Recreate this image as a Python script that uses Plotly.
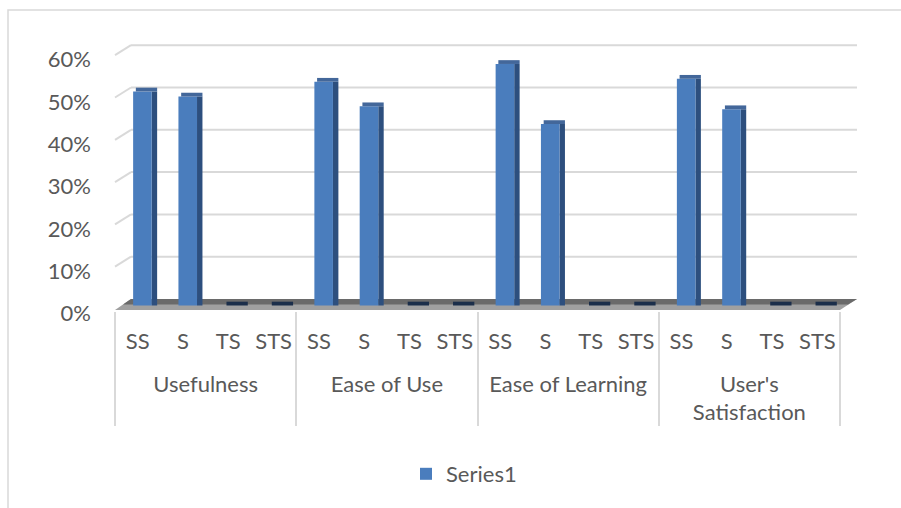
import plotly.graph_objects as go

# ---------------- data ----------------
groups = ["Usefulness", "Ease of Use", "Ease of Learning", "User's<br>Satisfaction"]
responses = ["SS", "S", "TS", "STS"]
usefulness = [0.506, 0.494, 0.0, 0.0]
ease_of_use = [0.529, 0.471, 0.0, 0.0]
ease_of_learning = [0.571, 0.429, 0.0, 0.0]
users_satisfaction = [0.536, 0.464, 0.0, 0.0]
y_ticks = [0.0, 0.1, 0.2, 0.3, 0.4, 0.5, 0.6]
y_tick_labels = ["0%", "10%", "20%", "30%", "40%", "50%", "60%"]
series_name = "Series1"

values = usefulness + ease_of_use + ease_of_learning + users_satisfaction
# leading blank line pushes the group labels a little further below the sub-labels
x_outer = ["<br>" + g for g in groups for _ in responses]
x_inner = [r for _ in groups for r in responses]

# ---------------- geometry (pixels) ----------------
W, H = 901, 508
FRONT_L, FRONT_R = 115, 840
DX, DY = 16, 13           # depth shift of the back wall
PPU = 423                 # pixels per 100 %
ZERO_FRONT = 312
ZERO_MID = ZERO_FRONT - DY / 2
AXIS_BOTTOM = 311
TOP = 36
FONT = "Lato"
TXT = "#595959"
GRID = "#D9D9D9"
BACK_SHIFT = (DY / 2) / PPU   # value offset of back wall vs bar plane


def px(p):
    return p / W


def py(p):
    return 1 - p / H


cap_colors = ["#43679A" if v > 0 else "#1B2E4A" for v in values]

fig = go.Figure()
# side faces
fig.add_trace(go.Bar(x=[x_outer, x_inner], y=values, offset=0.31, width=0.12,
                     marker=dict(color="#2D4F7E", line=dict(width=0)), showlegend=False,
                     hoverinfo="skip"))
# front faces
fig.add_trace(go.Bar(x=[x_outer, x_inner], y=values, offset=-0.10, width=0.41,
                     name=series_name,
                     marker=dict(color="#4A7DBD", line=dict(width=0))))
# top caps
fig.add_trace(go.Bar(x=[x_outer, x_inner], y=[0.009] * len(values), base=values,
                     offset=-0.04, width=0.47,
                     marker=dict(color=cap_colors, line=dict(width=0)), showlegend=False,
                     hoverinfo="skip"))

shapes = []
# chart border
shapes.append(dict(type="rect", xref="paper", yref="paper", x0=px(8), x1=px(910), y0=py(10), y1=py(520),
                   line=dict(color=GRID, width=1.5), layer="below"))
for v in y_ticks[1:]:
    # back wall gridlines
    shapes.append(dict(type="line", xref="paper", yref="y", x0=px(FRONT_L + DX), x1=px(FRONT_R + DX + 1),
                       y0=v + BACK_SHIFT, y1=v + BACK_SHIFT, line=dict(color=GRID, width=2), layer="below"))
    # side-wall diagonals
    shapes.append(dict(type="line", xref="paper", yref="y",
                       x0=px(FRONT_L), y0=v - BACK_SHIFT + 3 / PPU,
                       x1=px(FRONT_L + DX), y1=v + BACK_SHIFT,
                       line=dict(color=GRID, width=2), layer="below"))
# floor
fy_front = AXIS_BOTTOM - 1
fy_back = ZERO_FRONT - DY
shapes.append(dict(type="path", xref="paper", yref="paper",
                   path=f"M {px(FRONT_L)},{py(fy_front)} L {px(FRONT_R)},{py(fy_front)} "
                        f"L {px(FRONT_R + DX + 1)},{py(fy_back)} L {px(FRONT_L + DX)},{py(fy_back)} Z",
                   fillcolor="#A0A0A0", line=dict(width=0), layer="below"))
mid = (fy_front + fy_back) / 2
shapes.append(dict(type="path", xref="paper", yref="paper",
                   path=f"M {px(FRONT_L + DX / 2)},{py(mid)} L {px(FRONT_R + DX / 2)},{py(mid)} "
                        f"L {px(FRONT_R + DX + 1)},{py(fy_back)} L {px(FRONT_L + DX)},{py(fy_back)} Z",
                   fillcolor="#6A6A6A", line=dict(width=0), layer="below"))

fig.update_layout(
    width=W, height=H,
    margin=dict(l=0, r=0, t=0, b=0, autoexpand=False),
    paper_bgcolor="white", plot_bgcolor="rgba(0,0,0,0)",
    barmode="overlay",
    font=dict(family=FONT, size=22, color=TXT),
    shapes=shapes,
    xaxis=dict(type="multicategory", domain=[px(FRONT_L), px(FRONT_R)], anchor="y", automargin=False,
               showgrid=False, showline=False, ticks="", zeroline=False,
               ticklabelstandoff=15,
               showdividers=True, dividercolor=GRID, dividerwidth=2,
               tickfont=dict(family=FONT, size=22, color=TXT)),
    yaxis=dict(domain=[py(AXIS_BOTTOM), py(TOP)],
               range=[-(AXIS_BOTTOM - ZERO_MID) / PPU, (ZERO_MID - TOP) / PPU],
               anchor="x", automargin=False,
               tickvals=y_ticks, ticktext=y_tick_labels, ticks="",
               ticklabelstandoff=23, ticklabelshift=8,
               showgrid=False, zeroline=False, showline=False,
               tickfont=dict(family=FONT, size=22, color=TXT)),
    legend=dict(x=px(464), xanchor="center", y=py(474), yanchor="middle", orientation="h",
                font=dict(family=FONT, size=22, color=TXT), bgcolor="rgba(0,0,0,0)"),
)

fig.write_html("out.html")
